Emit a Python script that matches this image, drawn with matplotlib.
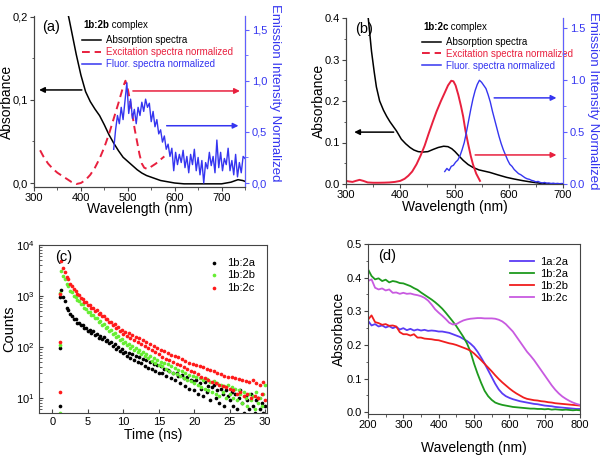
import matplotlib
matplotlib.use("Agg")
import matplotlib.pyplot as plt
import numpy as np
from matplotlib.lines import Line2D
from matplotlib.ticker import MultipleLocator, FuncFormatter, LogLocator, NullFormatter

plt.rcParams["font.family"] = ["Liberation Sans", "DejaVu Sans"]
plt.rcParams["mathtext.fontset"] = "custom"
plt.rcParams["mathtext.rm"] = "Liberation Sans"
plt.rcParams["mathtext.it"] = "Liberation Sans:italic"
plt.rcParams["mathtext.bf"] = "Liberation Sans:bold"

BLUE = "#3535f0"
RED = "#e8203e"
AXC = "#444444"

# ---------------- panel (a): 1b:2b complex ----------------
a_abs_wl = [360, 370, 375, 380, 390, 400, 410, 420, 430, 440, 450, 460, 470, 480, 490, 500,
            510, 520, 530, 540, 550, 560, 570, 580, 600, 620, 650, 700, 720, 735, 745, 750]
a_abs = [0.24, 0.21, 0.197, 0.183, 0.155, 0.13, 0.11, 0.098, 0.089, 0.081, 0.07, 0.058, 0.048,
         0.039, 0.031, 0.026, 0.021, 0.016, 0.012, 0.009, 0.007, 0.005, 0.003, 0.002, 0.0,
         -0.001, -0.001, -0.001, 0.001, 0.004, 0.003, 0.002]

a_exc_wl = [313, 320, 330, 340, 350, 360, 370, 380, 390, 400, 410, 420, 430, 440, 450, 460, 470,
            480, 490, 495, 500, 505, 510, 515, 520, 525, 530, 535, 540, 545, 550, 560, 570, 578]
a_exc = [0.32, 0.26, 0.19, 0.14, 0.10, 0.07, 0.04, 0.01, -0.01, 0.0, 0.03, 0.08, 0.15, 0.24,
         0.35, 0.48, 0.63, 0.78, 0.94, 1.0, 0.92, 0.80, 0.66, 0.52, 0.40, 0.28, 0.19, 0.15,
         0.14, 0.14, 0.16, 0.19, 0.23, 0.26]

a_flu_wl = np.arange(470, 751, 4)
a_flu = [0.33, 0.52, 0.66, 0.58, 0.74, 0.62, 0.80, 0.98, 0.68, 0.82, 0.63, 0.72, 0.58, 0.74,
         0.66, 0.79, 0.70, 0.82, 0.74, 0.78, 0.60, 0.70, 0.55, 0.62, 0.48, 0.52, 0.40, 0.46,
         0.33, 0.38, 0.26, 0.34, 0.12, 0.30, 0.18, 0.28, 0.20, 0.32, 0.15, 0.26, 0.10, 0.28,
         0.18, 0.33, 0.12, 0.25, 0.08, 0.22, 0.00, 0.20, 0.14, 0.30, 0.17, 0.26, 0.10, 0.42,
         0.15, 0.30, 0.12, 0.24, 0.18, 0.34, 0.12, 0.22, 0.08, 0.28, 0.06, 0.20, 0.10, 0.26,
         0.24]

# ---------------- panel (b): 1b:2c complex ----------------
b_abs_wl = [335, 341, 347, 352, 356, 362, 369, 375, 381, 387, 393, 398, 402, 410, 418, 425, 433,
            442, 451, 460, 470, 480, 488, 495, 501, 508, 516, 525, 534, 545, 555, 565, 580, 596,
            610, 626, 640, 657, 680, 700]
b_abs = [0.45, 0.40, 0.32, 0.27, 0.234, 0.20, 0.178, 0.163, 0.15, 0.139, 0.128, 0.117, 0.108,
         0.097, 0.088, 0.082, 0.078, 0.077, 0.078, 0.083, 0.088, 0.091, 0.09, 0.085, 0.078,
         0.068, 0.057, 0.047, 0.04, 0.034, 0.031, 0.028, 0.022, 0.016, 0.012, 0.008, 0.005,
         0.002, 0.0, 0.0]

b_exc_wl = [300, 305, 312, 318, 325, 332, 340, 350, 360, 370, 380, 390, 400, 408, 415, 422, 430,
            438, 445, 452, 460, 467, 475, 482, 488, 494, 498, 502, 507, 512, 516, 520, 525, 530,
            534, 540, 547]
b_exc = [0.03, 0.025, 0.02, 0.03, 0.04, 0.03, 0.015, 0.012, 0.012, 0.013, 0.015, 0.02, 0.03,
         0.05, 0.08, 0.12, 0.19, 0.28, 0.37, 0.48, 0.60, 0.70, 0.80, 0.88, 0.95, 0.995, 0.99,
         0.95, 0.86, 0.75, 0.65, 0.52, 0.39, 0.27, 0.19, 0.10, 0.03]

b_flu_wl = np.arange(482, 699, 4)
b_flu = [0.12, 0.15, 0.13, 0.17, 0.18, 0.21, 0.23, 0.27, 0.33, 0.40, 0.50, 0.61, 0.72, 0.82,
         0.90, 0.96, 1.0, 0.98, 0.95, 0.92, 0.86, 0.79, 0.70, 0.62, 0.54, 0.46, 0.39, 0.33,
         0.28, 0.23, 0.19, 0.17, 0.14, 0.12, 0.10, 0.09, 0.075, 0.06, 0.05, 0.045, 0.035,
         0.03, 0.02, 0.025, 0.015, 0.01, 0.015, 0.008, 0.01, 0.005, 0.008, 0.004, 0.006,
         0.003, 0.005]

# ---------------- panel (c): decay curves ----------------
t_rise = [1.0, 1.0, 1.12]
t_main = np.arange(1.25, 30.01, 0.25)
c_labels = ["1b:2a", "1b:2b", "1b:2c"]
c_colors = ["black", "#66ee33", "#ff1a1a"]
rise_2a = [7, 93, 950]
rise_2b = [5, 110, 1150]
rise_2c = [13, 125, 1100]
counts_2a = [1310, 960, 800, 590, 530, 440, 410, 355, 345, 300, 298, 262, 262, 233, 236, 208,
             212, 184, 201, 170, 182, 152, 165, 140, 153, 128, 136, 118, 124, 103, 112, 92, 99, 84, 91, 74,
             80, 66, 76, 60, 71, 55, 66, 50, 62, 47, 58, 41, 54, 38, 50, 36, 45, 33, 43, 30,
             41, 30, 36, 27, 35, 33, 24, 31, 22, 30, 27, 19, 28, 24, 17, 25, 15, 22, 21, 14,
             22, 12, 19, 15, 11, 20, 13, 17, 9, 16, 18, 10, 14, 8, 15, 12, 7, 14, 11, 9,
             13, 7, 12, 6, 10, 14, 8, 5, 11, 9, 6, 12, 7, 5, 9, 10, 6, 8, 5, 7]
counts_2b = [3050, 2450, 2150, 1700, 1540, 1260, 1190, 990, 960, 820, 805, 690, 690, 590, 565, 485,
             490, 420, 430, 362, 368, 310, 320, 268, 280, 234, 244, 204, 214, 178, 188, 156, 165, 136, 145, 118,
             127, 106, 116, 96, 105, 86, 96, 78, 87, 71, 80, 66, 73, 59, 66, 53, 61, 48, 55, 44,
             50, 41, 48, 37, 45, 34, 41, 31, 38, 29, 35, 27, 33, 24, 30, 22, 28, 21, 27, 19,
             26, 18, 24, 16, 22, 15, 23, 14, 20, 13, 21, 12, 19, 11, 18, 13, 17, 10, 18, 12,
             16, 10, 15, 9, 14, 12, 8, 13, 10, 7, 12, 9, 11, 6, 13, 8, 10, 7, 12, 18]
counts_2c = [4900, 3500, 2950, 2350, 2100, 1740, 1600, 1340, 1270, 1090, 1050, 900, 885, 770, 760, 670,
             665, 585, 590, 515, 520, 450, 460, 395, 400, 350, 355, 305, 312, 268, 277, 235, 243, 205, 213, 182,
             195, 165, 185, 152, 170, 138, 158, 126, 146, 115, 135, 104, 125, 95, 115, 87, 104, 80, 95, 72,
             88, 64, 82, 58, 76, 54, 70, 50, 66, 46, 62, 43, 57, 40, 52, 37, 49, 34, 45, 32,
             44, 29, 42, 26, 40, 24, 37, 22, 35, 20, 33, 19, 31, 18, 29, 17, 27, 16, 26, 15,
             25, 14, 24, 12, 23, 13, 22, 11, 21, 12, 20, 10, 22, 11, 19, 10, 18, 12, 20, 9]

# ---------------- panel (d): absorbance of films ----------------
d_wl = np.arange(200, 801, 10)
d_labels = ["1a:2a", "1b:2a", "1b:2b", "1b:2c"]
d_colors = ["#5a3cf5", "#1e9a1e", "#f01e1e", "#c85ae0"]
abs_1a2a = [0.272, 0.258, 0.262, 0.255, 0.258, 0.252, 0.256, 0.25, 0.254, 0.246, 0.25, 0.244,
            0.248, 0.243, 0.246, 0.243, 0.245, 0.242, 0.243, 0.242, 0.24, 0.24, 0.238, 0.236,
            0.232, 0.228, 0.224, 0.218, 0.212, 0.204, 0.194, 0.18, 0.163, 0.145, 0.125, 0.105,
            0.085, 0.068, 0.056, 0.048, 0.043, 0.039, 0.036, 0.033, 0.031, 0.029, 0.027, 0.025,
            0.024, 0.022, 0.02, 0.019, 0.018, 0.016, 0.015, 0.014, 0.013, 0.012, 0.011, 0.01, 0.01]
abs_1b2a = [0.425, 0.405, 0.395, 0.398, 0.39, 0.394, 0.386, 0.39, 0.388, 0.384, 0.383, 0.379,
            0.375, 0.369, 0.364, 0.356, 0.349, 0.342, 0.335, 0.327, 0.318, 0.308, 0.296, 0.283,
            0.27, 0.256, 0.24, 0.224, 0.205, 0.18, 0.145, 0.115, 0.088, 0.064, 0.048, 0.037,
            0.029, 0.025, 0.022, 0.02, 0.018, 0.016, 0.015, 0.014, 0.013, 0.012, 0.011, 0.011,
            0.01, 0.01, 0.009, 0.01, 0.008, 0.009, 0.008, 0.007, 0.008, 0.007, 0.006, 0.007, 0.006]
abs_1b2b = [0.275, 0.288, 0.268, 0.265, 0.26, 0.262, 0.257, 0.258, 0.255, 0.238, 0.232, 0.232,
            0.228, 0.232, 0.222, 0.222, 0.219, 0.218, 0.217, 0.215, 0.214, 0.211, 0.208, 0.205,
            0.203, 0.2, 0.196, 0.192, 0.188, 0.183, 0.175, 0.165, 0.155, 0.144, 0.133, 0.122,
            0.11, 0.099, 0.089, 0.08, 0.071, 0.063, 0.056, 0.05, 0.044, 0.04, 0.038, 0.036,
            0.035, 0.033, 0.032, 0.03, 0.029, 0.027, 0.026, 0.025, 0.024, 0.023, 0.022, 0.021, 0.02]
abs_1b2c = [0.39, 0.395, 0.37, 0.365, 0.368, 0.362, 0.365, 0.355, 0.356, 0.352, 0.355, 0.352,
            0.353, 0.35, 0.348, 0.345, 0.34, 0.332, 0.32, 0.306, 0.296, 0.287, 0.277, 0.266,
            0.261, 0.262, 0.268, 0.273, 0.276, 0.278, 0.279, 0.28, 0.28, 0.279, 0.279, 0.279,
            0.278, 0.275, 0.27, 0.262, 0.251, 0.24, 0.225, 0.21, 0.195, 0.18, 0.168, 0.155,
            0.14, 0.125, 0.11, 0.095, 0.08, 0.067, 0.056, 0.047, 0.04, 0.034, 0.029, 0.025, 0.022]


def comma(v, pos):
    return f"{v:.1f}".replace(".", ",")


def style_axes(ax, direction="out"):
    for s in ax.spines.values():
        s.set_color(AXC)
    ax.tick_params(which="both", direction=direction, colors=AXC, labelcolor="black",
                   labelsize=8, pad=1.2 if direction == "out" else 3)
    ax.tick_params(which="major", length=3)
    ax.tick_params(which="minor", length=1.8)


def spectra_panel(ax, tag, label, abs_wl, abs_y, exc_wl, exc_y, exc_ls, flu_wl, flu_y,
                  xlim, ylim, ylim2, tick_fmt, ylab_x, xlab_y, rlab):
    style_axes(ax)
    ax.spines["top"].set_visible(False)
    ax.plot(abs_wl, abs_y, color="black", lw=1.1)
    ax.set_xlim(*xlim)
    ax.set_ylim(*ylim)
    ax.xaxis.set_major_locator(MultipleLocator(100))
    ax.xaxis.set_minor_locator(MultipleLocator(50))
    ax.set_xlabel("Wavelength (nm)", fontsize=10)
    ax.set_ylabel("Absorbance", fontsize=10)
    ax.yaxis.set_label_coords(ylab_x, 0.5)
    ax.xaxis.set_label_coords(0.5, xlab_y)

    ax2 = ax.twinx()
    style_axes(ax2)
    ax2.spines["top"].set_visible(False)
    ax2.spines["right"].set_color("#6060ff")
    ax2.tick_params(axis="y", which="both", colors="#6060ff", labelcolor=BLUE, pad=2)
    ax2.plot(exc_wl, exc_y, color=RED, lw=1.4, ls=exc_ls)
    ax2.plot(flu_wl, flu_y, color=BLUE, lw=1.0)
    ax2.set_ylim(*ylim2)
    ax2.yaxis.set_major_locator(MultipleLocator(0.5))
    ax2.yaxis.set_minor_locator(MultipleLocator(0.25))
    ax2.set_ylabel("Emission Intensity Normalized", color=BLUE, fontsize=9.5, rotation=270,
                   va="center")
    ax2.yaxis.set_label_coords(rlab[0], rlab[1])
    if tick_fmt is not None:
        ax.yaxis.set_major_formatter(FuncFormatter(tick_fmt))
        ax2.yaxis.set_major_formatter(FuncFormatter(tick_fmt))
    else:
        ax2.yaxis.set_major_formatter(FuncFormatter(lambda v, p: f"{v:.1f}"))

    ax.text(0.04, 0.935, tag, transform=ax.transAxes, fontsize=10.5, va="center")
    t = ax.text(label[0], label[1], label[2], transform=ax.transAxes, fontsize=7,
                fontweight="bold", va="center")
    ax.annotate(" complex", xy=(1, 0.5), xycoords=t, va="center", fontsize=7)
    handles = [Line2D([], [], color="black", lw=1.1),
               Line2D([], [], color=RED, lw=1.4, ls=(0, (4, 2.5))),
               Line2D([], [], color=BLUE, lw=1.1)]
    names = ["Absorption spectra", "Excitation spectra normalized", "Fluor. spectra normalized"]
    leg = ax.legend(handles, names, loc="upper left",
                    bbox_to_anchor=(label[0] - 0.005, label[1] - 0.06),
                    frameon=False, fontsize=7, handlelength=2.0, handletextpad=0.45,
                    labelspacing=0.2, borderpad=0, borderaxespad=0)
    for txt, c in zip(leg.get_texts(), ["black", RED, BLUE]):
        txt.set_color(c)
    return ax2


fig = plt.figure(figsize=(6, 4.57), dpi=100)

# (a)
ax_a = fig.add_axes([34 / 600, 1 - 187 / 457, 211 / 600, 171 / 457])
ax_a.yaxis.set_major_locator(MultipleLocator(0.1))
ax_a.yaxis.set_minor_locator(MultipleLocator(0.05))
ax_a2 = spectra_panel(ax_a, "(a)", (0.232, 0.947, "1b:2b"), a_abs_wl, a_abs, a_exc_wl, a_exc,
                      (0, (4, 2.5)), a_flu_wl, a_flu, (300, 750), (-0.0048, 0.201),
                      (-0.039, 1.633), comma, -0.095, -0.085, (1.142, 0.55))
ax_a.annotate("", xy=(305, 0.112), xytext=(408, 0.112),
              arrowprops=dict(arrowstyle="-|>", color="black", lw=1.1, mutation_scale=8))
ax_a2.annotate("", xy=(745, 0.9), xytext=(505, 0.9),
               arrowprops=dict(arrowstyle="-|>", color=RED, lw=1.1, mutation_scale=8))
ax_a2.annotate("", xy=(742, 0.56), xytext=(577, 0.56),
               arrowprops=dict(arrowstyle="-|>", color=BLUE, lw=1.1, mutation_scale=8))

# (b)
ax_b = fig.add_axes([346 / 600, 1 - 184 / 457, 217 / 600, 166 / 457])
ax_b.yaxis.set_major_locator(MultipleLocator(0.1))
ax_b.yaxis.set_minor_locator(MultipleLocator(0.05))
ax_b2 = spectra_panel(ax_b, "(b)", (0.355, 0.946, "1b:2c"), b_abs_wl, b_abs, b_exc_wl, b_exc,
                      "-", b_flu_wl, b_flu, (300, 700), (0, 0.4), (0, 1.6), None,
                      -0.092, -0.095, (1.136, 0.5))
ax_b.yaxis.set_major_formatter(FuncFormatter(lambda v, p: f"{v:.1f}"))
ax_b.annotate("", xy=(310, 0.125), xytext=(393, 0.125),
              arrowprops=dict(arrowstyle="-|>", color="black", lw=1.1, mutation_scale=8))
ax_b2.annotate("", xy=(693, 0.83), xytext=(568, 0.83),
               arrowprops=dict(arrowstyle="-|>", color=BLUE, lw=1.1, mutation_scale=8))
ax_b2.annotate("", xy=(693, 0.28), xytext=(533, 0.28),
               arrowprops=dict(arrowstyle="-|>", color=RED, lw=1.1, mutation_scale=8))

# (c)
ax_c = fig.add_axes([39 / 600, 1 - 413 / 457, 228 / 600, 168 / 457])
style_axes(ax_c, "in")
for rise, counts, lab, col in zip([rise_2a, rise_2b, rise_2c], [counts_2a, counts_2b, counts_2c],
                                  c_labels, c_colors):
    tt = list(t_rise) + list(t_main)
    cc = list(rise) + list(counts)
    ax_c.scatter(tt, cc, s=7, color=col, linewidths=0, label=lab)
ax_c.set_yscale("log")
ax_c.set_xlim(-1.9, 30.25)
ax_c.set_ylim(5, 1e4)
ax_c.xaxis.set_major_locator(MultipleLocator(5))
ax_c.yaxis.set_major_locator(LogLocator(base=10, numticks=10))
ax_c.yaxis.set_minor_locator(LogLocator(base=10, subs=np.arange(2, 10), numticks=10))
ax_c.yaxis.set_minor_formatter(NullFormatter())
ax_c.set_xlabel("Time (ns)", fontsize=10)
ax_c.set_ylabel("Counts", fontsize=10.5)
ax_c.yaxis.set_label_coords(-0.1, 0.5)
ax_c.xaxis.set_label_coords(0.5, -0.09)
ax_c.text(0.07, 0.93, "(c)", transform=ax_c.transAxes, fontsize=10.5, va="center")
ax_c.legend(loc="upper right", bbox_to_anchor=(0.99, 0.985), frameon=False, fontsize=8,
            markerscale=1.0, handlelength=1.0, handletextpad=0.6, labelspacing=0.25)

# (d)
ax_d = fig.add_axes([368 / 600, 1 - 414 / 457, 212 / 600, 170 / 457])
style_axes(ax_d)
for ys, lab, col in zip([abs_1a2a, abs_1b2a, abs_1b2b, abs_1b2c], d_labels, d_colors):
    ax_d.plot(d_wl, ys, color=col, lw=1.3, label=lab)
ax_d.set_xlim(200, 800)
ax_d.set_ylim(-0.005, 0.5)
ax_d.xaxis.set_major_locator(MultipleLocator(100))
ax_d.xaxis.set_minor_locator(MultipleLocator(50))
ax_d.yaxis.set_major_locator(MultipleLocator(0.1))
ax_d.yaxis.set_minor_locator(MultipleLocator(0.05))
ax_d.yaxis.set_major_formatter(FuncFormatter(lambda v, p: f"{v:.1f}"))
ax_d.set_xlabel("Wavelength (nm)", fontsize=10)
ax_d.set_ylabel("Absorbance", fontsize=10)
ax_d.yaxis.set_label_coords(-0.104, 0.5)
ax_d.xaxis.set_label_coords(0.5, -0.16)
ax_d.text(0.05, 0.93, "(d)", transform=ax_d.transAxes, fontsize=10.5, va="center")
ax_d.legend(loc="upper right", bbox_to_anchor=(0.99, 0.985), frameon=False, fontsize=8,
            handlelength=2.2, handletextpad=0.5, labelspacing=0.2)

fig.savefig("out.png", dpi=100)
